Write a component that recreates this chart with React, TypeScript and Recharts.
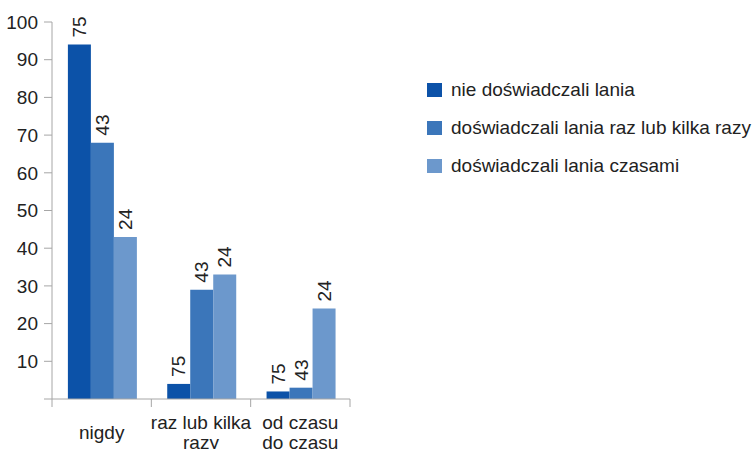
import { BarChart, Bar, XAxis, YAxis, LabelList } from "recharts";

const categories = ["nigdy", "raz lub kilka razy", "od czasu do czasu"];
const categoryLines = [["nigdy"], ["raz lub kilka", "razy"], ["od czasu", "do czasu"]];
const seriesNames = [
  "nie doświadczali lania",
  "doświadczali lania raz lub kilka razy",
  "doświadczali lania czasami",
];
const noLashing = [94, 4, 2];
const onceOrFew = [68, 29, 3];
const sometimes = [43, 33, 24];
const sampleSizes = [75, 43, 24];
const yTicks = [0, 10, 20, 30, 40, 50, 60, 70, 80, 90, 100];

const colors = ["#0c52a8", "#3b76ba", "#6c98cc"];
const axisColor = "#a6a6a6";
const font = "'Liberation Sans', Arial, sans-serif";
const fs = 19;

const data = categories.map((name, i) => ({
  name,
  s0: noLashing[i],
  s1: onceOrFew[i],
  s2: sometimes[i],
}));

const W = 756;
const H = 449;
const margin = { top: 22, right: 406, bottom: 0, left: 0 };
const yAxisWidth = 52;
const band = (W - margin.left - margin.right - yAxisWidth) / categories.length;

const CategoryTick = (props: any) => {
  const { x, y, index } = props;
  const lines = categoryLines[index] || [];
  const startY = y + 33 - ((lines.length - 1) * 20) / 2;
  return (
    <g>
      <line x1={x - band / 2} x2={x - band / 2} y1={y} y2={y + 8} stroke={axisColor} />
      {index === categories.length - 1 && (
        <line x1={x + band / 2} x2={x + band / 2} y1={y} y2={y + 8} stroke={axisColor} />
      )}
      <text textAnchor="middle" fontSize={fs} fill="#222" fontFamily={font}>
        {lines.map((l, i) => (
          <tspan key={i} x={x} y={startY + i * 20} dominantBaseline="central">
            {l}
          </tspan>
        ))}
      </text>
    </g>
  );
};

const sizeLabel = (n: number) => (props: any) => {
  const { x, y, width } = props;
  return (
    <text
      transform={`translate(${x + width / 2},${y - 7}) rotate(-90)`}
      textAnchor="start"
      dominantBaseline="central"
      fontSize={fs}
      fill="#222"
      fontFamily={font}
    >
      {n}
    </text>
  );
};

export default function App() {
  return (
    <div style={{ position: "absolute", left: 0, top: 0, width: W, height: H, background: "#fff", overflow: "hidden" }}>
      <BarChart width={W} height={H} data={data} margin={margin} barCategoryGap="16%" barGap={0}>
        <XAxis
          dataKey="name"
          height={50}
          stroke={axisColor}
          tickLine={false}
          tickSize={0}
          tickMargin={0}
          tick={<CategoryTick />}
          interval={0}
        />
        <YAxis
          domain={[0, 100]}
          ticks={yTicks}
          width={yAxisWidth}
          stroke={axisColor}
          tickSize={8}
          tickMargin={6}
          tickFormatter={(v: number) => (v === 0 ? "" : String(v))}
          tick={{ fill: "#222", fontSize: fs, fontFamily: font }}
        />
        {["s0", "s1", "s2"].map((k, i) => (
          <Bar key={k} dataKey={k} fill={colors[i]} isAnimationActive={false}>
            <LabelList dataKey={k} content={sizeLabel(sampleSizes[i])} />
          </Bar>
        ))}
      </BarChart>
      <div style={{ position: "absolute", left: 427, top: 78, fontFamily: font, fontSize: fs, color: "#222" }}>
        {seriesNames.map((n, i) => (
          <div key={n} style={{ display: "flex", alignItems: "center", height: 24, marginBottom: 14, whiteSpace: "nowrap" }}>
            <span style={{ display: "inline-block", width: 15, height: 14, background: colors[i], marginRight: 9 }} />
            {n}
          </div>
        ))}
      </div>
    </div>
  );
}
